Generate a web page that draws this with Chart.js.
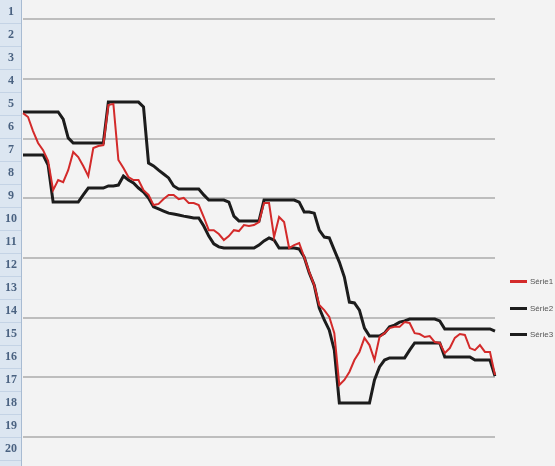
<!DOCTYPE html>
<html>
<head>
<meta charset="utf-8">
<script src="https://cdn.jsdelivr.net/npm/chart.js@4.4.0/dist/chart.umd.min.js"></script>
<style>
    html, body { margin: 0; padding: 0; background: #f3f3f3; }
    #wrap { position: relative; width: 555px; height: 466px; }
    #legend { position: absolute; left: 510px; top: 0; font: 8px "Liberation Sans", Arial, sans-serif; color: #555; }
    .item { position: absolute; left: 0; height: 10px; display: flex; align-items: center; white-space: nowrap; }
    .swatch { width: 17px; height: 3px; margin-right: 3px; }
</style>
</head>
<body>
<div id="wrap">
    <canvas id="chart" width="555" height="466"></canvas>
    <div id="legend"></div>
</div>
<script>
// ===== DATA =====
const rowLabels = ['1', '2', '3', '4', '5', '6', '7', '8', '9', '10',
    '11', '12', '13', '14', '15', '16', '17', '18', '19', '20'];

const seriesNames = ['Série1', 'Série2', 'Série3'];
const seriesColors = ['#d32a2a', '#1c1c1c', '#1c1c1c'];

const serie1 = [
    108.5, 107.2, 102.5, 98.5, 96.1, 92.5, 82.7, 86.1, 85.4, 89.4,
    95.5, 93.8, 90.8, 87.4, 96.8, 97.5, 97.8, 111.2, 111.6, 92.8,
    90.1, 87.1, 86.1, 86.1, 82.7, 81.1, 77.7, 78.1, 79.7, 81.1,
    81.1, 79.7, 80.1, 78.4, 78.4, 77.7, 73.7, 69.3, 69.3, 68.0,
    66.0, 67.3, 69.3, 69.0, 71.0, 70.7, 71.0, 72.0, 78.4, 78.4,
    67.0, 73.7, 72.0, 63.3, 64.3, 65.0, 60.3, 55.3, 50.9, 44.2,
    42.5, 40.2, 34.8, 17.4, 19.1, 21.8, 25.8, 28.5, 33.2, 30.8,
    25.8, 33.5, 34.8, 36.5, 36.9, 36.9, 38.5, 38.2, 34.8, 34.5,
    33.5, 33.8, 31.8, 31.5, 28.1, 29.8, 33.2, 34.5, 34.2, 29.8,
    29.1, 30.8, 28.5, 28.5, 20.8
];

const serie2 = [
    108.9, 108.9, 108.9, 108.9, 108.9, 108.9, 108.9, 108.9, 106.5, 100.2,
    98.5, 98.5, 98.5, 98.5, 98.5, 98.5, 98.5, 112.2, 112.2, 112.2,
    112.2, 112.2, 112.2, 112.2, 110.6, 91.8, 90.8, 89.4, 88.1, 86.8,
    84.1, 83.1, 83.1, 83.1, 83.1, 83.1, 81.1, 79.4, 79.4, 79.4,
    79.4, 78.7, 74.0, 72.4, 72.4, 72.4, 72.4, 72.4, 79.4, 79.4,
    79.4, 79.4, 79.4, 79.4, 79.4, 78.7, 75.4, 75.4, 75.0, 69.3,
    67.0, 66.7, 62.6, 58.6, 53.6, 45.2, 44.9, 42.5, 36.5, 33.8,
    33.8, 33.8, 34.8, 36.9, 37.5, 38.5, 38.9, 39.5, 39.5, 39.5,
    39.5, 39.5, 39.5, 38.9, 36.2, 36.2, 36.2, 36.2, 36.2, 36.2,
    36.2, 36.2, 36.2, 36.2, 35.5
];

const serie3 = [
    94.5, 94.5, 94.5, 94.5, 94.5, 91.1, 78.7, 78.7, 78.7, 78.7,
    78.7, 78.7, 81.1, 83.4, 83.4, 83.4, 83.4, 84.1, 84.1, 84.4,
    87.4, 86.1, 85.1, 83.4, 82.1, 80.1, 77.1, 76.4, 75.7, 75.0,
    74.7, 74.4, 74.0, 73.7, 73.4, 73.4, 70.7, 67.3, 64.7, 63.7,
    63.3, 63.3, 63.3, 63.3, 63.3, 63.3, 63.3, 64.3, 65.7, 66.7,
    66.0, 63.3, 63.3, 63.3, 63.3, 63.0, 60.3, 55.0, 50.9, 43.2,
    39.2, 35.8, 29.1, 11.4, 11.4, 11.4, 11.4, 11.4, 11.4, 11.4,
    19.1, 23.5, 25.8, 26.5, 26.5, 26.5, 26.5, 29.1, 31.5, 31.5,
    31.5, 31.5, 31.5, 31.5, 26.8, 26.8, 26.8, 26.8, 26.8, 26.8,
    25.8, 25.8, 25.8, 25.8, 20.4
];

const points = serie1.map((_, i) => String(i + 1));

// ===== PLUGINS =====
// light blue row header strip down the left side
const rowStrip = {
    id: 'rowStrip',
    beforeDraw(chart) {
        const ctx = chart.ctx;
        const s = chart.scales.rows;
        const slot = (s.bottom - s.top) / rowLabels.length;
        ctx.save();
        ctx.fillStyle = '#dce6f1';
        ctx.fillRect(0, 0, 21, chart.height);
        ctx.strokeStyle = '#c4d3e5';
        ctx.lineWidth = 1;
        for (let i = 0; i < rowLabels.length; i++) {
            const y = Math.round(s.getPixelForValue(i) + slot / 2) + 0.5;
            ctx.beginPath();
            ctx.moveTo(0, y);
            ctx.lineTo(21, y);
            ctx.stroke();
        }
        ctx.strokeStyle = '#a8bbd2';
        ctx.beginPath();
        ctx.moveTo(21.5, 0);
        ctx.lineTo(21.5, chart.height);
        ctx.stroke();
        ctx.restore();
    }
};

// ===== CHART =====
const datasets = [serie1, serie2, serie3].map((data, i) => ({
    label: seriesNames[i],
    data: data,
    yAxisID: 'y',
    borderColor: seriesColors[i],
    borderWidth: i === 0 ? 2 : 3,
    pointRadius: 0,
    tension: 0,
    fill: false
}));

new Chart(document.getElementById('chart'), {
    type: 'line',
    data: { labels: points, datasets: datasets },
    options: {
        responsive: false,
        animation: false,
        layout: { padding: { top: 0, right: 60, bottom: 6, left: 0 } },
        plugins: {
            legend: { display: false },
            tooltip: { enabled: false }
        },
        scales: {
            x: { display: false },
            rows: {
                type: 'category',
                labels: rowLabels,
                position: 'left',
                offset: true,
                grid: { display: false, drawTicks: false },
                border: { display: false },
                ticks: {
                    color: '#4a6281',
                    font: { family: 'Liberation Serif', size: 12, weight: 'bold' },
                    padding: 6,
                    crossAlign: 'center',
                    autoSkip: false
                },
                afterFit(s) {
                    s.width = 23;
                    s.paddingTop = 0;
                    s.paddingBottom = 0;
                }
            },
            y: {
                position: 'left',
                min: -7.7,
                max: 146.4,
                ticks: { display: false, stepSize: 20, includeBounds: false },
                grid: { color: '#bdbdbd', lineWidth: 2, drawTicks: false },
                border: { display: false }
            }
        }
    },
    plugins: [rowStrip]
});

// ===== LEGEND =====
const legend = document.getElementById('legend');
const legendY = [281, 308, 334];
seriesNames.forEach((name, i) => {
    const item = document.createElement('div');
    item.className = 'item';
    item.style.top = (legendY[i] - 5) + 'px';
    const swatch = document.createElement('span');
    swatch.className = 'swatch';
    swatch.style.background = seriesColors[i];
    const text = document.createElement('span');
    text.textContent = name;
    item.appendChild(swatch);
    item.appendChild(text);
    legend.appendChild(item);
});
</script>
</body>
</html>
